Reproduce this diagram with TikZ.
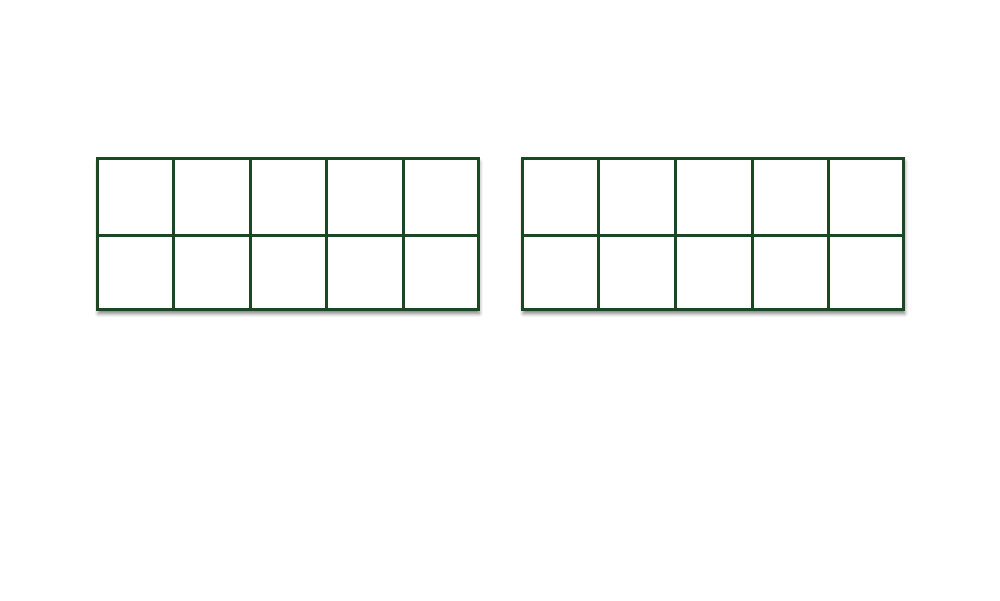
\documentclass[tikz,border=0pt]{standalone}
\usetikzlibrary{shadows.blur}
\definecolor{framegreen}{HTML}{1B4723}
\tikzset{
  frameline/.style={draw=framegreen, line width=3pt},
  frameshadow/.style={blur shadow={shadow xshift=1pt, shadow yshift=-3.5pt, shadow blur radius=4pt, shadow opacity=55}}
}
\begin{document}
\begin{tikzpicture}[x=1pt,y=-1pt]
\useasboundingbox (0,0) rectangle (1000,600);
% left ten-frame
\path[frameshadow, fill=white] (97.5,158.5) rectangle (478,309.8);
\draw[frameline] (97.5,235.3) -- (478,235.3);
\foreach \v in {173.7,250,326.7,403}{
  \draw[frameline] (\v,158.5) -- (\v,309.8);
}
\draw[frameline] (97.5,158.5) rectangle (478,309.8);
% right ten-frame
\path[frameshadow, fill=white] (522.5,158.5) rectangle (903.5,309.8);
\draw[frameline] (522.5,235.3) -- (903.5,235.3);
\foreach \v in {598.7,675.3,752,828}{
  \draw[frameline] (\v,158.5) -- (\v,309.8);
}
\draw[frameline] (522.5,158.5) rectangle (903.5,309.8);
\end{tikzpicture}
\end{document}
